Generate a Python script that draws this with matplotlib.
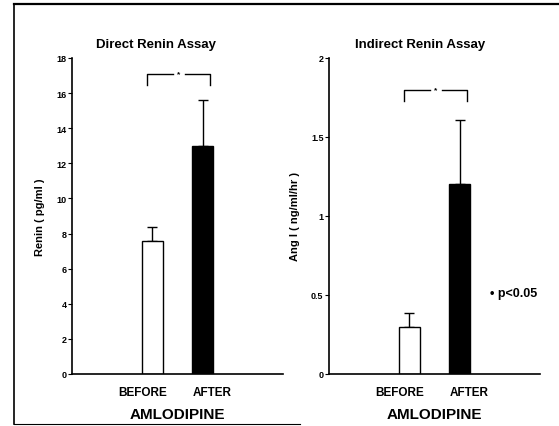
import matplotlib
matplotlib.use("Agg")
import matplotlib.pyplot as plt
from matplotlib.lines import Line2D

plt.rcParams['font.family'] = ['Liberation Sans', 'DejaVu Sans']
plt.rcParams['font.weight'] = 'bold'

categories = ["BEFORE", "AFTER"]
direct_values = [7.6, 13.0]
direct_err = [0.8, 2.6]
indirect_values = [0.30, 1.20]
indirect_err = [0.085, 0.41]
direct_ticks = [0, 2, 4, 6, 8, 10, 12, 14, 16, 18]
direct_ticklabels = ["0", "2", "4", "6", "8", "10", "12", "14", "16", "18"]
indirect_ticks = [0, 0.5, 1, 1.5, 2]
indirect_ticklabels = ["0", "0.5", "1", "1.5", "2"]
sig_levels = [17.1, 1.80]
sig_drop = [0.65, 0.07]

W, H = 559, 427
fig = plt.figure(figsize=(W / 100, H / 100), dpi=100)

def fx(px):
    return px / W

def fy(py):
    return 1 - py / H

ax1 = fig.add_axes([fx(72), fy(375), fx(211), 316 / H])
ax2 = fig.add_axes([fx(329), fy(375), fx(211), 316 / H])

panels = [
    (ax1, direct_values, direct_err, (0, 18), direct_ticks, direct_ticklabels,
     "Direct Renin Assay", "Renin ( pg/ml )", sig_levels[0], sig_drop[0], 0.40),
    (ax2, indirect_values, indirect_err, (0, 2), indirect_ticks, indirect_ticklabels,
     "Indirect Renin Assay", "Ang I ( ng/ml/hr )", sig_levels[1], sig_drop[1], 0.43),
]

x = [0, 1]
for ax, vals, errs, ylim, ticks, tlabels, title, ylabel, sig, drop, tx in panels:
    ax.bar(x, vals, width=0.42, color=["white", "black"], edgecolor="black",
           linewidth=1.0, zorder=2)
    ax.errorbar(x, vals, yerr=[[0, 0], errs], fmt="none", ecolor="black",
                elinewidth=1.0, capsize=3.5, capthick=1.0, zorder=1)
    ax.set_xlim(-1.583, 2.583)
    ax.set_ylim(*ylim)
    ax.set_yticks(ticks)
    ax.set_yticklabels(tlabels, fontsize=6.5, fontweight='bold')
    ax.tick_params(axis='y', direction='out', length=3, width=0.8, pad=1)
    ax.set_xticks([x[0] - 0.18, x[1] + 0.18])
    ax.set_xticklabels(categories, fontsize=8.5, fontweight='bold')
    ax.tick_params(axis='x', length=0, pad=9)
    for s in ["top", "right"]:
        ax.spines[s].set_visible(False)
    ax.spines["left"].set_linewidth(1.2)
    ax.spines["bottom"].set_linewidth(1.2)
    ax.text(tx, 1.045, title, transform=ax.transAxes, fontsize=9.5,
            fontweight='bold', ha="center", va="center")
    ax.set_ylabel(ylabel, fontsize=8, fontweight='bold', labelpad=8)
    ax.set_xlabel("AMLODIPINE", fontsize=11, fontweight='bold', labelpad=6)
    # significance bracket
    xl, xr = x[0] - 0.1, x[1] + 0.15
    xm = (xl + xr) / 2
    gap = 0.12
    ax.plot([xl, xl, xm - gap], [sig - drop, sig, sig], color="black", lw=1.0,
            clip_on=False)
    ax.plot([xm + gap, xr, xr], [sig, sig, sig - drop], color="black", lw=1.0,
            clip_on=False)
    ax.text(xm, sig, "*", ha="center", va="center", fontsize=6, fontweight='bold')

fig.text(fx(490), fy(294), "• p<0.05", fontsize=9, fontweight='bold',
         ha="left", va="center")

# outer frame
fig.add_artist(Line2D([fx(14), fx(14)], [fy(5), fy(425)], color="black", lw=1.2))
fig.add_artist(Line2D([fx(14), fx(559)], [fy(5), fy(5)], color="black", lw=1.6))
fig.add_artist(Line2D([fx(14), fx(300)], [fy(425), fy(425)], color="black", lw=0.8))

fig.savefig("out.png", dpi=100)
